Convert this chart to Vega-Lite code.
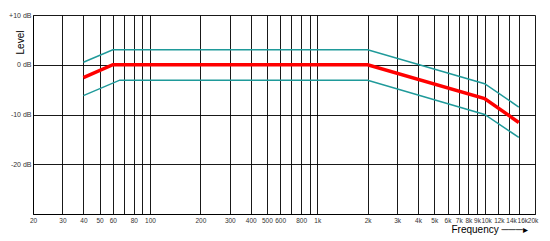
{
  "$schema": "https://vega.github.io/schema/vega-lite/v6.json",
  "width": 502,
  "height": 199,
  "autosize": "none",
  "padding": {"left": 33, "top": 15, "right": 15, "bottom": 27},
  "background": "white",
  "config": {"view": {"stroke": null}, "font": "Liberation Sans"},
  "data": {
    "values": [
      {"f": 40, "level": -2.6, "s": "nominal"},
      {"f": 60, "level": 0, "s": "nominal"},
      {"f": 2000, "level": 0, "s": "nominal"},
      {"f": 10000, "level": -6.8, "s": "nominal"},
      {"f": 16000, "level": -11.6, "s": "nominal"},
      {"f": 40, "level": 0.5, "s": "upper"},
      {"f": 60, "level": 3, "s": "upper"},
      {"f": 2000, "level": 3, "s": "upper"},
      {"f": 10000, "level": -3.8, "s": "upper"},
      {"f": 16000, "level": -8.5, "s": "upper"},
      {"f": 40, "level": -6.2, "s": "lower"},
      {"f": 66, "level": -3.1, "s": "lower"},
      {"f": 2000, "level": -3.1, "s": "lower"},
      {"f": 10000, "level": -10, "s": "lower"},
      {"f": 16000, "level": -14.6, "s": "lower"}
    ]
  },
  "encoding": {
    "x": {
      "field": "f",
      "type": "quantitative",
      "scale": {"type": "log", "domain": [20, 20000], "nice": false},
      "axis": {
        "values": [20, 30, 40, 50, 60, 70, 80, 90, 100, 200, 300, 400, 500, 600, 700, 800, 900, 1000, 2000, 3000, 4000, 5000, 6000, 7000, 8000, 9000, 10000, 12000, 14000, 16000, 20000],
        "labelExpr": "datum.value >= 1000 ? (datum.value / 1000) + 'k' : (indexof([70, 90, 700, 900], datum.value) >= 0 ? '' : datum.value + '')",
        "grid": true,
        "gridColor": "#000000",
        "gridOpacity": 0.9,
        "gridWidth": 1,
        "ticks": false,
        "domainColor": "#000000",
        "domainWidth": 1,
        "labelFontSize": 6.5,
        "labelColor": "#333333",
        "labelPadding": 3,
        "labelFlush": false,
        "labelOverlap": false,
        "labelOffset": {
          "condition": [
            {"test": "datum.value == 10000", "value": 1.5},
            {"test": "datum.value == 12000", "value": 1},
            {"test": "datum.value == 14000", "value": 2},
            {"test": "datum.value == 16000", "value": 3.5},
            {"test": "datum.value == 20000", "value": -2.5}
          ],
          "value": 0
        },
        "title": "Frequency ───▸",
        "titleX": 418,
        "titleY": 18,
        "titleAlign": "left",
        "titleBaseline": "alphabetic",
        "titleFontWeight": "normal",
        "titleFontSize": 10,
        "titleColor": "#000000"
      }
    },
    "y": {
      "field": "level",
      "type": "quantitative",
      "scale": {"domain": [-30, 10], "nice": false},
      "axis": {
        "values": [10, 0, -10, -20, -30],
        "labelExpr": "datum.value > 0 ? '+' + datum.value + ' dB' : (datum.value == -30 ? '' : datum.value + ' dB')",
        "grid": true,
        "gridColor": "#000000",
        "gridOpacity": 0.9,
        "gridWidth": 1,
        "ticks": false,
        "domainColor": "#000000",
        "labelFontSize": 7,
        "labelColor": "#333333",
        "labelPadding": 2,
        "labelFlush": false,
        "title": "Level",
        "titleX": -13,
        "titleY": 27,
        "titleAngle": -90,
        "titleAlign": "center",
        "titleBaseline": "middle",
        "titleFontWeight": "normal",
        "titleFontSize": 10,
        "titleColor": "#000000"
      }
    }
  },
  "layer": [
    {
      "transform": [{"filter": "datum.s !== 'nominal'"}],
      "mark": {"type": "line", "color": "#1f9a9a", "strokeWidth": 1.5},
      "encoding": {"detail": {"field": "s", "type": "nominal"}}
    },
    {
      "transform": [{"filter": "datum.s === 'nominal'"}],
      "mark": {"type": "line", "color": "#ff0000", "strokeWidth": 3.5}
    }
  ]
}
